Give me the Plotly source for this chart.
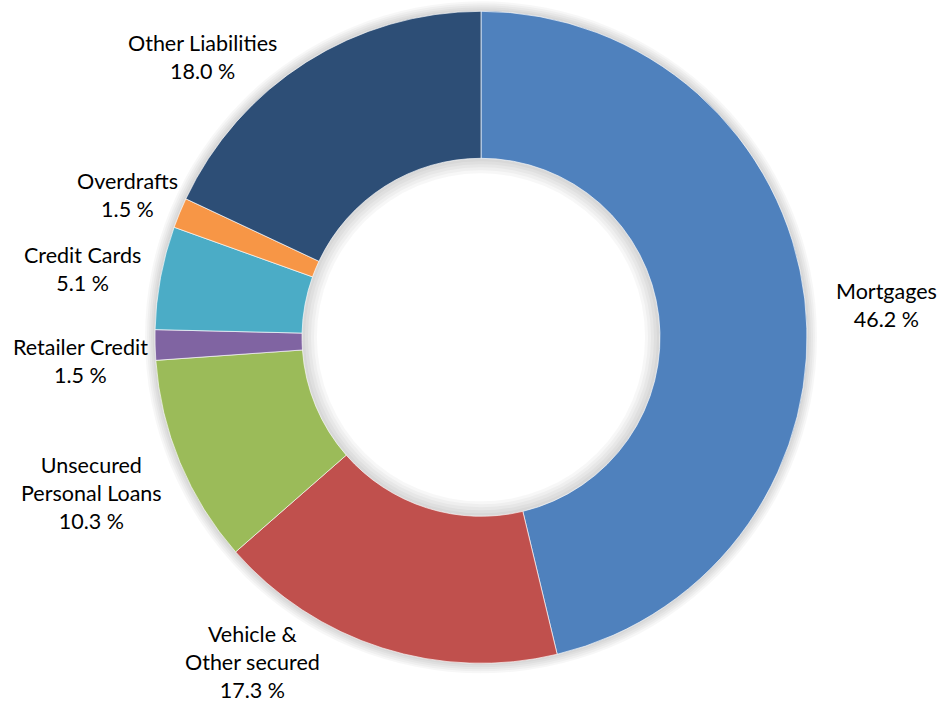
import math
import plotly.graph_objects as go

# ---- data ----
categories = ["Mortgages", "Vehicle &<br>Other secured", "Unsecured<br>Personal Loans",
              "Retailer Credit", "Credit Cards", "Overdrafts", "Other Liabilities"]
shares = [46.2, 17.3, 10.3, 1.5, 5.1, 1.5, 18.0]

# ---- style / layout ----
colors = ["#4F81BD", "#C0504D", "#9BBB59", "#8064A2", "#4BACC6", "#F79646", "#2D4E76"]
W, H = 942, 702
CX, CY, R, R_IN = 481, 337.3, 326, 179
LABEL_R = 400
# per-label nudges (px) from the mid-angle position
label_nudge = [(8, 15), (-107, -56), (-20, 2), (-1, 14), (-5, 5), (16, 10), (-64, 57)]
FONT = "Lato, 'Open Sans', sans-serif"


def dom(r):
    y0 = max(0.0, 1 - (CY + r) / H)
    y1 = min(1.0, 1 - (CY - r) / H)
    return dict(x=[(CX - r) / W, (CX + r) / W], y=[y0, y1])


fig = go.Figure()

# soft outer shadow made of faint rings
for k in range(10, 0, -2):
    fig.add_trace(go.Pie(
        values=[1], labels=["shadow"], domain=dom(R + k), hole=(R_IN - 1.5 * k) / (R + k),
        marker=dict(colors=["rgba(0,0,0,0.03)"], line=dict(width=0)),
        textinfo="none", hoverinfo="skip", showlegend=False, sort=False))

fig.add_trace(go.Pie(
    labels=categories, values=shares, domain=dom(R), hole=R_IN / R,
    sort=False, direction="clockwise", rotation=0,
    marker=dict(colors=colors, line=dict(color="rgba(255,255,255,0.8)", width=0.8)),
    textinfo="none", showlegend=False))

total = sum(shares)
cum = 0.0
annotations = []
for name, v, (nx, ny) in zip(categories, shares, label_nudge):
    mid = (cum + v / 2) / total * 2 * math.pi
    cum += v
    px = CX + LABEL_R * math.sin(mid) + nx
    py = CY - LABEL_R * math.cos(mid) + ny
    annotations.append(dict(
        x=px / W, y=1 - py / H, xref="paper", yref="paper",
        text=f"{name}<br>{v:.1f} %", showarrow=False, xanchor="center", yanchor="middle",
        align="center", font=dict(family=FONT, size=21.5, color="#000000")))

fig.update_layout(
    width=W, height=H, margin=dict(l=0, r=0, t=0, b=0),
    paper_bgcolor="white", plot_bgcolor="white",
    annotations=annotations, showlegend=False)

fig.write_html("out.html")
